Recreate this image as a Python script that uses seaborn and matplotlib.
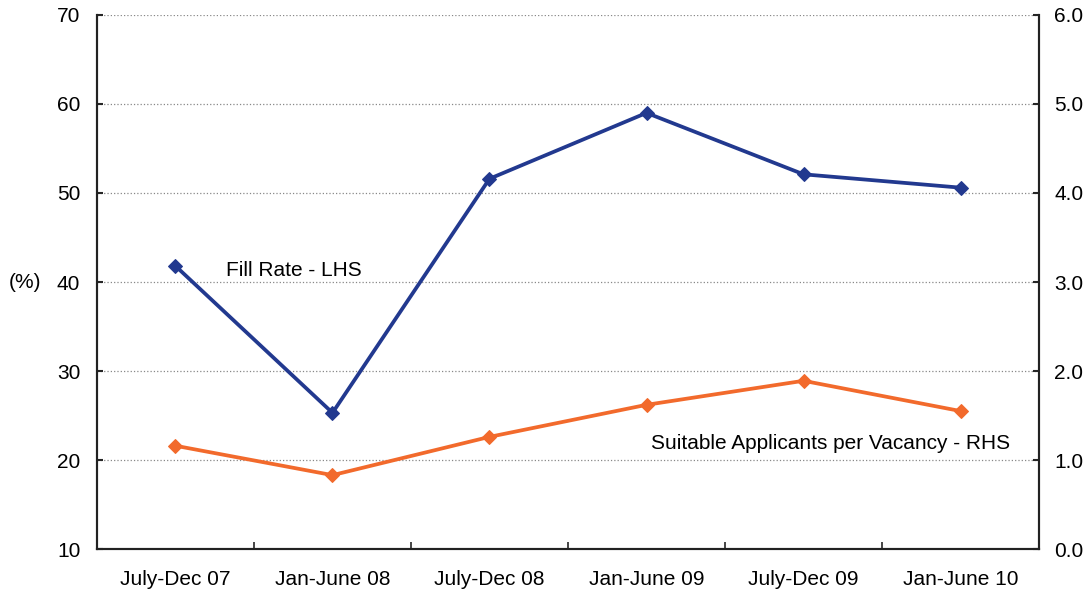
import numpy as np
import pandas as pd
import seaborn as sns
import matplotlib.pyplot as plt
from matplotlib.ticker import FixedLocator

periods = ['July-Dec 07', 'Jan-June 08', 'July-Dec 08', 'Jan-June 09', 'July-Dec 09', 'Jan-June 10']
fill_rate = [41.8, 25.3, 51.6, 59.0, 52.1, 50.6]
applicants = [1.16, 0.83, 1.26, 1.62, 1.89, 1.55]

df = pd.DataFrame({'pos': np.arange(len(periods)), 'period': periods,
                   'fill': fill_rate, 'app': applicants})

sns.set_style('white')
plt.rcParams['font.family'] = ['Liberation Sans', 'DejaVu Sans']

fig = plt.figure(figsize=(10.92, 5.95), dpi=100)
ax = fig.add_axes([0.0888, 0.0773, 0.8627, 0.8975])
ax2 = ax.twinx()

blue = '#22398F'
orange = '#F26A2C'
sns.lineplot(data=df, x='pos', y='fill', ax=ax, color=blue, lw=2.7,
             marker='D', markersize=7, markeredgecolor=blue)
sns.lineplot(data=df, x='pos', y='app', ax=ax2, color=orange, lw=2.7,
             marker='D', markersize=7, markeredgecolor=orange)

fsize = 15
ax.set_xlim(-0.5, len(periods) - 0.5)
ax.set_ylim(10, 70)
ax.set_yticks(range(10, 71, 10))
ax2.set_ylim(0, 6)
ax2.set_yticks(np.arange(0, 6.1, 1))
ax2.set_yticklabels(['%.1f' % v for v in np.arange(0, 6.1, 1)], fontsize=fsize)
ax.tick_params(axis='y', labelsize=fsize, direction='in', length=4, width=1.5,
               left=True, pad=12, labelcolor='black')
ax2.tick_params(axis='y', direction='in', length=4, width=1.5, right=True,
                pad=11, labelcolor='black')

ax.set_xticks(df['pos'])
ax.set_xticklabels(periods, fontsize=fsize)
ax.xaxis.set_minor_locator(FixedLocator(np.arange(0.5, len(periods) - 1, 1)))
ax.tick_params(axis='x', which='major', length=0, pad=15, labelcolor='black')
ax.tick_params(axis='x', which='minor', direction='in', length=5, width=1.2, bottom=True)

ax.grid(axis='y', color='#888888', linestyle=':', linewidth=0.9)
ax.set_axisbelow(True)
ax.set_xlabel('')
ax.set_ylabel('(%)', rotation=0, fontsize=fsize, va='center', ha='center', color='black')
ax.yaxis.set_label_coords(-0.076, 0.5)
ax2.set_ylabel('')

for a in (ax, ax2):
    a.spines['top'].set_visible(False)
    for s in ('left', 'right', 'bottom'):
        a.spines[s].set_color('#222222')
        a.spines[s].set_linewidth(1.5)

ax.text(0.32, 41.3, 'Fill Rate - LHS', fontsize=fsize, va='center', color='black')
ax2.text(5.315, 1.19, 'Suitable Applicants per Vacancy - RHS', fontsize=fsize,
         ha='right', va='center', color='black')

fig.savefig('out.png', dpi=100)
